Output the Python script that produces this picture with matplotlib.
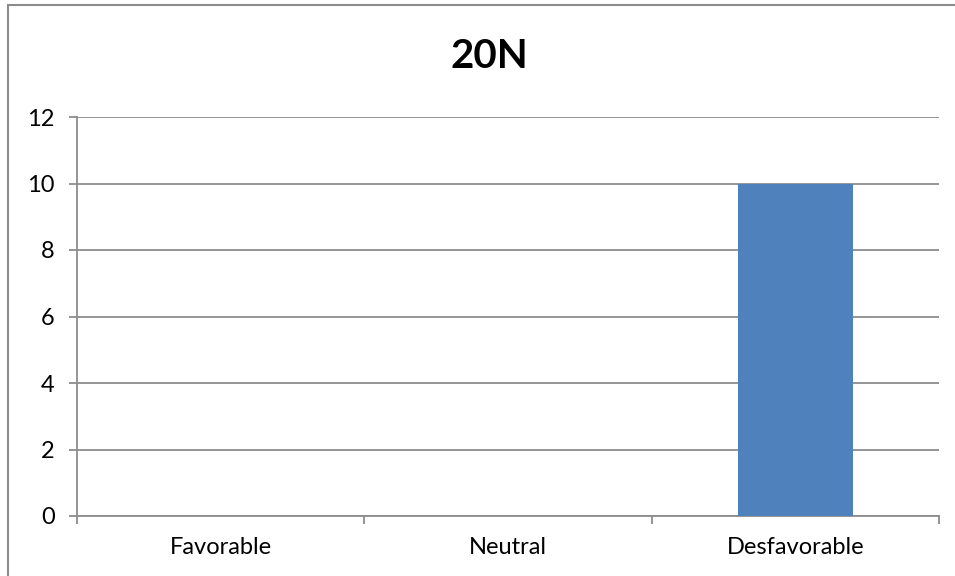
import matplotlib
matplotlib.use('Agg')
import matplotlib.pyplot as plt
from matplotlib.patches import Rectangle

categories = ['Favorable', 'Neutral', 'Desfavorable']
values = [0, 0, 10]
y_ticks = [0, 2, 4, 6, 8, 10, 12]

plt.rcParams['font.family'] = ['Lato', 'DejaVu Sans']

fig = plt.figure(figsize=(9.55, 5.76), dpi=100)
ax = fig.add_axes([77 / 955, 60 / 576, 862 / 955, 399 / 576])

grid_col = '#8c8c8c'
x = list(range(len(categories)))
ax.bar(x, values, width=0.4, color='#4F81BD', zorder=3)

ax.set_xlim(-0.5, len(categories) - 0.5)
ax.set_ylim(0, 12)
ax.set_yticks(y_ticks)
ax.yaxis.grid(True, color=grid_col, linewidth=1.3, zorder=0)

# category labels centered, tick marks between categories
ax.set_xticks(x)
ax.set_xticklabels(categories, fontsize=17)
ax.tick_params(axis='x', length=0, pad=15)
ax.set_xticks([i - 0.5 for i in range(len(categories) + 1)], minor=True)
ax.tick_params(axis='x', which='minor', length=6, width=1.3, color=grid_col, direction='out')
ax.tick_params(axis='y', length=6, width=1.3, color=grid_col, labelsize=17, pad=10)

for side in ['top', 'right']:
    ax.spines[side].set_visible(False)
for side in ['left', 'bottom']:
    ax.spines[side].set_color(grid_col)
    ax.spines[side].set_linewidth(1.3)

fig.text(489 / 955, 1 - 56 / 576, '20N', ha='center', va='center',
         fontsize=29, fontweight='bold')

# outer chart border, right and bottom edges run off the canvas
fig.patches.append(Rectangle((8 / 955, -0.05), 1.0, 1.05 - 5 / 576,
                             transform=fig.transFigure, fill=False,
                             edgecolor='#8c8c8c', linewidth=1.5))

plt.savefig('out.png', dpi=100)
